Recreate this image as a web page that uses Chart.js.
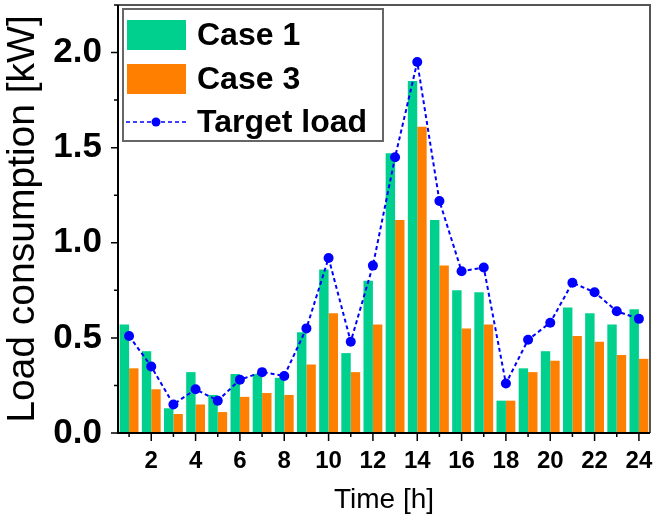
<!DOCTYPE html>
<html>
<head>
    <title>Load consumption</title>
    <script src="https://cdn.jsdelivr.net/npm/chart.js"></script>
    <style>
        body { margin: 0; background: #fff; }
        canvas { display: block; }
    </style>
</head>
<body>
<canvas id="loadChart" width="659" height="519"></canvas>
<script>
    // hours of the day
    const hours = [1, 2, 3, 4, 5, 6, 7, 8, 9, 10, 11, 12, 13, 14, 15, 16, 17, 18, 19, 20, 21, 22, 23, 24];

    // load in kW
    const case1 = [0.57, 0.43, 0.13, 0.32, 0.20, 0.31, 0.31, 0.29, 0.53, 0.86, 0.42, 0.80,
                   1.47, 1.85, 1.12, 0.75, 0.74, 0.17, 0.34, 0.43, 0.66, 0.63, 0.57, 0.65];
    const case3 = [0.34, 0.23, 0.10, 0.15, 0.11, 0.19, 0.21, 0.20, 0.36, 0.63, 0.32, 0.57,
                   1.12, 1.61, 0.88, 0.55, 0.57, 0.17, 0.32, 0.38, 0.51, 0.48, 0.41, 0.39];
    const targetLoad = [0.51, 0.35, 0.15, 0.23, 0.17, 0.28, 0.32, 0.30, 0.55, 0.92, 0.48, 0.88,
                        1.45, 1.95, 1.22, 0.85, 0.87, 0.26, 0.49, 0.58, 0.79, 0.74, 0.64, 0.60];

    const yTicks = [0, 0.5, 1.0, 1.5, 2.0];

    const FONT = "'Liberation Sans', Arial, sans-serif";
    const GREEN = '#00d08e';
    const ORANGE = '#ff8000';
    const BLUE = '#0000ff';

    // frame, tick marks and the boxed legend are drawn by hand
    const framePlugin = {
        id: 'frame',
        afterDraw(chart) {
            const c = chart.ctx;
            const a = chart.chartArea;
            const xs = chart.scales.x;
            const ys = chart.scales.y;
            c.save();

            // top + right border
            c.strokeStyle = '#555';
            c.lineWidth = 2;
            c.beginPath();
            c.moveTo(a.left, a.top);
            c.lineTo(a.right, a.top);
            c.lineTo(a.right, a.bottom);
            c.stroke();

            // axes
            c.strokeStyle = '#000';
            c.lineWidth = 2;
            c.beginPath();
            c.moveTo(a.left, a.top);
            c.lineTo(a.left, a.bottom);
            c.lineTo(a.right, a.bottom);
            c.stroke();

            // y ticks, major every 0.5, minor between
            c.lineWidth = 1.5;
            c.beginPath();
            for (let v = 0; v <= ys.max + 1e-6; v += 0.25) {
                const y = ys.getPixelForValue(v);
                const major = yTicks.some(t => Math.abs(t - v) < 1e-6);
                c.moveTo(a.left, y);
                c.lineTo(a.left - (major ? 7 : 4), y);
            }
            // x ticks, major on even hours
            hours.forEach((h, i) => {
                const x = xs.getPixelForValue(i);
                c.moveTo(x, a.bottom);
                c.lineTo(x, a.bottom + (h % 2 === 0 ? 8 : 4));
            });
            c.stroke();

            // legend
            const ds = chart.data.datasets;
            const lx = 123, ly = 9, lw = 260, lh = 132;
            c.fillStyle = '#fff';
            c.fillRect(lx, ly, lw, lh);
            c.strokeStyle = '#666';
            c.lineWidth = 2;
            c.strokeRect(lx, ly, lw, lh);

            const rows = [
                {d: ds[1], top: 20},
                {d: ds[2], top: 64},
                {d: ds[0], top: 107}
            ];
            c.font = 'bold 32px ' + FONT;
            c.textBaseline = 'alphabetic';
            c.textAlign = 'left';
            rows.forEach(r => {
                if (r.d.type === 'line') {
                    const cy = r.top + 15;
                    c.strokeStyle = r.d.borderColor;
                    c.lineWidth = 1.5;
                    c.setLineDash([4, 3]);
                    c.beginPath();
                    c.moveTo(126, cy);
                    c.lineTo(186, cy);
                    c.stroke();
                    c.setLineDash([]);
                    c.fillStyle = r.d.pointBackgroundColor;
                    c.beginPath();
                    c.arc(156, cy, 4.5, 0, Math.PI * 2);
                    c.fill();
                } else {
                    c.fillStyle = r.d.backgroundColor;
                    c.fillRect(127, r.top, 59, 30);
                }
                c.fillStyle = '#000';
                c.fillText(r.d.label, 197, r.top + 25);
            });
            c.restore();
        }
    };

    const chart = new Chart(document.getElementById('loadChart'), {
        type: 'bar',
        data: {
            labels: hours,
            datasets: [
                {
                    type: 'line',
                    label: 'Target load',
                    data: targetLoad,
                    borderColor: BLUE,
                    borderWidth: 2,
                    borderDash: [4, 3],
                    pointRadius: 5,
                    pointBorderWidth: 0,
                    pointBackgroundColor: BLUE,
                    fill: false,
                    tension: 0
                },
                {
                    label: 'Case 1',
                    data: case1,
                    backgroundColor: GREEN,
                    barPercentage: 1,
                    categoryPercentage: 0.85
                },
                {
                    label: 'Case 3',
                    data: case3,
                    backgroundColor: ORANGE,
                    barPercentage: 1,
                    categoryPercentage: 0.85
                }
            ]
        },
        options: {
            responsive: false,
            animation: false,
            devicePixelRatio: 1,
            layout: {
                padding: {top: 5, right: 9, left: 0, bottom: 0}
            },
            plugins: {
                legend: {display: false},
                tooltip: {enabled: false}
            },
            scales: {
                x: {
                    offset: true,
                    grid: {display: false, drawTicks: false},
                    border: {display: false},
                    ticks: {
                        autoSkip: false,
                        maxRotation: 0,
                        padding: 14,
                        color: '#000',
                        font: {family: FONT, size: 24, weight: 'bold'},
                        callback: function (val, i) {
                            return hours[i] % 2 === 0 ? String(hours[i]) : '';
                        }
                    },
                    title: {
                        display: true,
                        text: 'Time [h]',
                        color: '#000',
                        font: {family: FONT, size: 28},
                        padding: {top: 0, bottom: 2}
                    },
                    afterFit: function (s) {
                        s.height = 86;
                        s.paddingLeft = 0;
                        s.paddingRight = 0;
                    }
                },
                y: {
                    min: 0,
                    max: 2.25,
                    grid: {display: false, drawTicks: false},
                    border: {display: false},
                    afterBuildTicks: function (s) {
                        s.ticks = yTicks.map(v => ({value: v}));
                    },
                    ticks: {
                        padding: 16,
                        color: '#000',
                        font: {family: FONT, size: 35, weight: 'bold'},
                        callback: v => v.toFixed(1)
                    },
                    title: {
                        display: true,
                        text: 'Load consumption [kW]',
                        color: '#000',
                        font: {family: FONT, size: 39},
                        padding: {top: 0, bottom: 0}
                    },
                    afterFit: function (s) {
                        s.width = 118;
                        s.paddingTop = 0;
                        s.paddingBottom = 0;
                    }
                }
            }
        },
        plugins: [framePlugin]
    });
</script>
</body>
</html>
